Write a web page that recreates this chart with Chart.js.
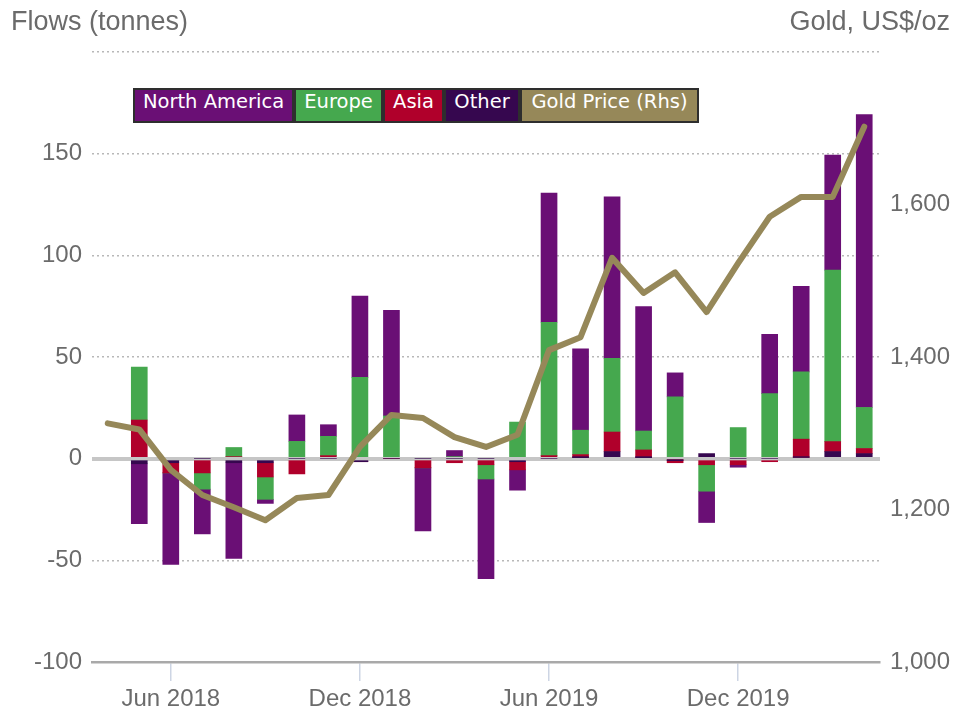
<!DOCTYPE html>
<html>
<head>
<meta charset="utf-8">
<title>Gold ETF flows by region</title>
<script src="https://cdn.jsdelivr.net/npm/chart.js@4.4.1/dist/chart.umd.min.js"></script>
<style>
  html, body { margin: 0; padding: 0; background: #fff; }
  #wrap { position: relative; width: 955px; height: 710px; }
  #chart { position: absolute; left: 0; top: 0; }
  .axis-title {
    position: absolute; top: 6px;
    font: 27px "Liberation Sans", Arial, sans-serif;
    color: #6b6b6b; white-space: nowrap;
  }
  #title-left { left: 11px; }
  #title-right { right: 5px; }
  #legend {
    position: absolute; left: 133px; top: 88px;
    display: flex; gap: 4px; padding: 2px;
    background: #2e2e2e;
  }
  #legend span {
    display: block; height: 31px; line-height: 33px; overflow: hidden;
    font: 19.5px "DejaVu Sans", sans-serif; color: #fff;
    text-align: center; white-space: nowrap;
  }
</style>
</head>
<body>
<div id="wrap">
  <canvas id="chart" width="955" height="710"></canvas>
  <div class="axis-title" id="title-left">Flows (tonnes)</div>
  <div class="axis-title" id="title-right">Gold, US$/oz</div>
  <div id="legend"></div>
</div>
<script>
// -- Data --------------------------------------------------------------

const months = [
  "Apr 2018", "May 2018", "Jun 2018", "Jul 2018", "Aug 2018", "Sep 2018",
  "Oct 2018", "Nov 2018", "Dec 2018", "Jan 2019", "Feb 2019", "Mar 2019",
  "Apr 2019", "May 2019", "Jun 2019", "Jul 2019", "Aug 2019", "Sep 2019",
  "Oct 2019", "Nov 2019", "Dec 2019", "Jan 2020", "Feb 2020", "Mar 2020",
  "Apr 2020",
];
const labelledMonths = ["Jun 2018", "Dec 2018", "Jun 2019", "Dec 2019"];

// tonnes
const northAmerica = [null, -29.5, -45, -22, -47, -2, 13, 5.7, 40, 52, -31, 3,
  -49, -10, 63.5, 40, 79.5, 61.2, 11.8, -15.4, -1.2, 29.2, 42, 56.6, 144];
const europe = [null, 26, 0, -8, 4.5, -11, 8.5, 9.5, 40, 21, 0, 1,
  -7, 18, 65.6, 12, 36.2, 9.3, 30.4, -13, 15.3, 32, 33.1, 84.3, 20.2];
const asia = [null, 19, -5, -7, 1, -7, -7.5, 1.5, 0, 0, -4.5, -2,
  -3, -4, 1.5, 1.5, 9.6, 3.8, -1.5, -3, -3, -1.5, 9, 4.9, 2.5];
const other = [null, -2.5, -2, 0, -2, -2, 0, 0, -1.5, 0, 0, 0,
  0, -1.5, 0, 0.5, 3.5, 0.5, -0.5, 2.5, 0, 0, 0.6, 3.5, 2.5];

// US$/oz, right axis
const goldPrice = [1313, 1305, 1252, 1219, 1203, 1186, 1215, 1219, 1282,
  1324, 1320, 1295, 1282, 1298, 1409, 1426, 1530, 1484, 1511, 1459, 1523,
  1584, 1610, 1610, 1702];

// -- Colours -----------------------------------------------------------

const COLORS = {
  northAmerica: "#6a0f75",
  europe: "#45a84e",
  asia: "#b0002b",
  other: "#36074f",
  gold: "#968859",
};

const legendItems = [
  { text: "North America", color: COLORS.northAmerica, width: 157 },
  { text: "Europe", color: COLORS.europe, width: 85 },
  { text: "Asia", color: COLORS.asia, width: 57 },
  { text: "Other", color: COLORS.other, width: 72 },
  { text: "Gold Price (Rhs)", color: COLORS.gold, width: 175 },
];

const legendEl = document.getElementById("legend");
legendItems.forEach(({ text, color, width }) => {
  const span = document.createElement("span");
  span.textContent = text;
  span.style.background = color;
  span.style.width = width + "px";
  legendEl.appendChild(span);
});

// -- Chart -------------------------------------------------------------

const tickFont = { family: "'Liberation Sans', Arial, sans-serif", size: 24 };
const tickColor = "#6b6b6b";

// `order` sets stacking: lower order sits closest to zero.
const bar = (label, values, color, order) => ({
  type: "bar",
  label,
  data: values,
  backgroundColor: color,
  borderWidth: 0,
  barThickness: 16,
  yAxisID: "y",
  order,
});

new Chart(document.getElementById("chart"), {
  data: {
    labels: months,
    datasets: [
      bar("North America", northAmerica, COLORS.northAmerica, 4),
      bar("Europe", europe, COLORS.europe, 3),
      bar("Asia", asia, COLORS.asia, 2),
      bar("Other", other, COLORS.other, 1),
      {
        type: "line",
        label: "Gold Price (Rhs)",
        data: goldPrice,
        borderColor: COLORS.gold,
        borderWidth: 6,
        borderJoinStyle: "round",
        borderCapStyle: "round",
        pointRadius: 0,
        tension: 0,
        yAxisID: "y1",
        order: 0,
      },
    ],
  },
  options: {
    responsive: false,
    animation: false,
    layout: { padding: { left: 34, right: 0, top: 52, bottom: 0 } },
    plugins: {
      legend: { display: false },
      tooltip: { enabled: false },
    },
    scales: {
      x: {
        stacked: true,
        offset: true,
        afterFit: (scale) => { scale.height = 48; },
        grid: {
          offset: false,
          drawOnChartArea: false,
          drawTicks: true,
          tickLength: 19,
          color: "#cdd5e4",
          lineWidth: 1.5,
        },
        border: { display: true, color: "#a9a9a9", width: 2.5 },
        ticks: {
          autoSkip: false,
          maxRotation: 0,
          padding: 4,
          font: tickFont,
          color: tickColor,
          callback: (v, i) =>
            labelledMonths.includes(months[i]) ? months[i] : null,
        },
      },
      y: {
        stacked: true,
        min: -100,
        max: 200,
        afterFit: (scale) => { scale.width = 58; },
        ticks: {
          stepSize: 50,
          padding: 10,
          font: tickFont,
          color: tickColor,
          callback: (v) => (v === 200 ? "" : v),
        },
        grid: {
          drawTicks: false,
          color: (ctx) => {
            if (ctx.tick.value === -100) return "rgba(0,0,0,0)";
            return ctx.tick.value === 0 ? "#c6c6c6" : "#b8b8b8";
          },
          lineWidth: (ctx) => (ctx.tick.value === 0 ? 4 : 1.5),
        },
        border: {
          display: false,
          dash: (ctx) => (ctx.tick && ctx.tick.value === 0 ? [] : [2, 3]),
        },
      },
      y1: {
        position: "right",
        min: 1000,
        max: 1800,
        afterFit: (scale) => { scale.width = 75; },
        ticks: {
          stepSize: 200,
          padding: 10,
          font: tickFont,
          color: tickColor,
          callback: (v) => (v === 1800 ? "" : v.toLocaleString("en-US")),
        },
        grid: { display: false, drawTicks: false },
        border: { display: false },
      },
    },
  },
});
</script>
</body>
</html>
